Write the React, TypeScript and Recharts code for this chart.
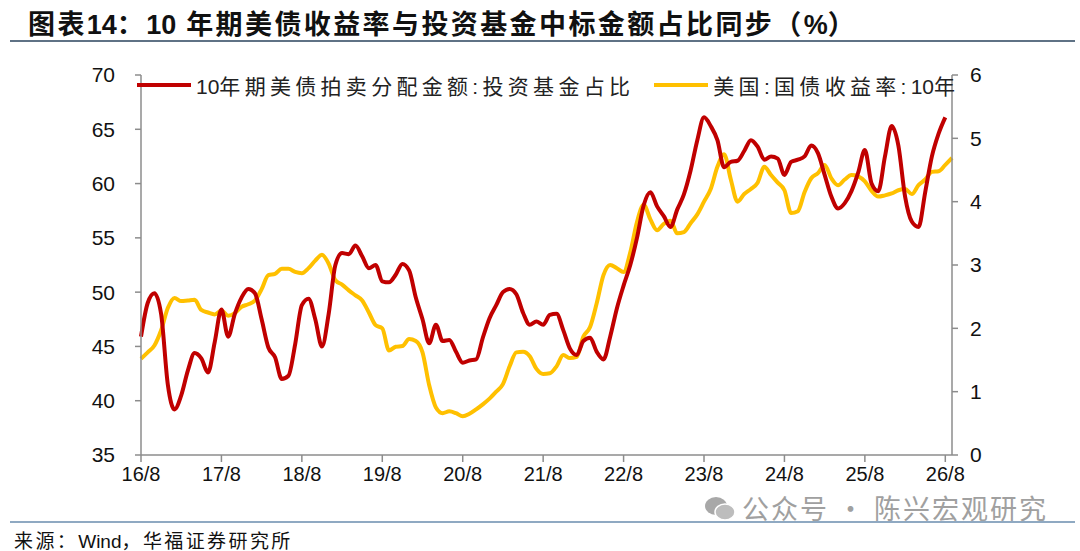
import React from "react";
import { LineChart, Line, XAxis, YAxis } from "recharts";

const months: number[] = Array.from({ length: 122 }, (_, i) => i);

const redValues: number[] = [
  45.9, 49.0, 49.9, 48.0, 41.5, 39.2, 40.5, 42.8, 44.4, 43.9,
  42.6, 45.4, 48.4, 45.9, 48.0, 49.5, 50.3, 49.9, 47.5, 44.9,
  44.0, 42.0, 42.3, 45.2, 48.8, 49.4, 47.5, 45.0, 48.0, 52.5,
  53.6, 53.5, 54.3, 53.3, 52.2, 52.5, 51.0, 50.9, 51.6, 52.6,
  52.0, 49.5, 47.5, 45.3, 47.0, 45.5, 45.6, 44.5, 43.5, 43.7,
  43.8, 45.8, 47.6, 48.8, 50.0, 50.3, 49.8, 48.1, 47.0, 47.3,
  47.0, 47.9, 48.0, 46.5, 44.8, 44.2, 45.5, 45.8, 44.5, 43.8,
  45.9, 48.5, 50.6, 52.5, 55.0, 58.0, 59.2, 57.9, 57.0, 56.0,
  57.6, 59.0, 61.2, 64.0, 66.1, 65.3, 64.0, 61.5, 62.0, 62.1,
  63.0, 64.0, 63.4, 62.2, 62.5, 62.3, 60.8, 62.0, 62.2, 62.5,
  63.5, 62.8, 60.8, 58.8, 57.7, 58.2, 59.3, 61.0, 63.1, 60.0,
  59.3, 62.5, 65.3, 63.5, 58.8, 56.5, 56.0, 59.2, 62.5, 64.6,
  66.1,
];

const yieldValues: number[] = [
  1.52, 1.62, 1.73, 1.97, 2.32, 2.48, 2.43, 2.44, 2.45, 2.29,
  2.25, 2.22, 2.28, 2.20, 2.24, 2.34, 2.38, 2.44, 2.62, 2.84,
  2.86, 2.94, 2.94, 2.89, 2.87, 2.95, 3.07, 3.16, 3.02, 2.76,
  2.69, 2.60, 2.52, 2.44, 2.25, 2.05, 2.00, 1.65, 1.71, 1.72,
  1.83, 1.80, 1.62, 1.10, 0.75, 0.66, 0.69, 0.66, 0.61, 0.65,
  0.72, 0.80, 0.89, 1.00, 1.12, 1.40, 1.62, 1.63, 1.56, 1.36,
  1.28, 1.29, 1.40, 1.58, 1.53, 1.55, 1.87, 2.02, 2.40, 2.84,
  3.00, 2.95, 2.89, 3.20, 3.68, 3.95, 3.72, 3.55, 3.65, 3.70,
  3.50, 3.52, 3.66, 3.80, 4.00, 4.20, 4.55, 4.75, 4.35, 4.00,
  4.12, 4.20, 4.30, 4.55, 4.42, 4.30, 4.18, 3.82, 3.85, 4.15,
  4.37, 4.45, 4.58, 4.37, 4.26, 4.35, 4.42, 4.40, 4.32, 4.17,
  4.08, 4.10, 4.13, 4.18, 4.20, 4.12, 4.26, 4.35, 4.47, 4.48,
  4.58, 4.69,
];

const xTicks: number[] = [0, 12, 24, 36, 48, 60, 72, 84, 96, 108, 120];
const xTickLabels: string[] = ["16/8", "17/8", "18/8", "19/8", "20/8", "21/8", "22/8", "23/8", "24/8", "25/8", "26/8"];
const leftTicks: number[] = [35, 40, 45, 50, 55, 60, 65, 70];
const rightTicks: number[] = [0, 1, 2, 3, 4, 5, 6];

const redName = "10年期美债拍卖分配金额:投资基金占比";
const yellowName = "美国:国债收益率:10年";
const titleText = "图表14：10 年期美债收益率与投资基金中标金额占比同步（%）";
const sourceText = "来源：Wind，华福证券研究所";
const watermarkText = "公众号 · 陈兴宏观研究";

const data = months.map((m, i) => ({
  m,
  red: i < redValues.length ? redValues[i] : null,
  yld: yieldValues[i],
}));

const RED = "#C00000";
const YELLOW = "#FFC000";
const AXIS = "#8C8C8C";
const FONT = "'Liberation Sans', Arial, 'Noto Sans CJK SC', sans-serif";

// Render text with letter spacing applied only to CJK / punctuation runs
function Spaced({ text, spacing }: { text: string; spacing: number }) {
  const runs: { s: string; latin: boolean }[] = [];
  for (const ch of text) {
    const latin = /[A-Za-z0-9%]/.test(ch);
    const last = runs[runs.length - 1];
    if (last && last.latin === latin) last.s += ch;
    else runs.push({ s: ch, latin });
  }
  return (
    <>
      {runs.map((r, i) => (
        <span key={i} style={{ letterSpacing: r.latin ? 0 : spacing }}>
          {r.s}
        </span>
      ))}
    </>
  );
}

export default function App() {
  return (
    <div style={{ position: "relative", width: 1080, height: 551, background: "#fff", fontFamily: FONT, overflow: "hidden" }}>
      <style>{`body{margin:0;}`}</style>
      <div
        style={{
          position: "absolute",
          left: 28,
          top: 3,
          fontSize: 27,
          fontWeight: 700,
          color: "#111",
          whiteSpace: "nowrap",
          fontFamily: "'Liberation Sans', 'Noto Sans CJK SC', sans-serif",
        }}
      >
        <Spaced text={titleText} spacing={2.4} />
      </div>
      <div style={{ position: "absolute", left: 10, width: 1065, top: 40, height: 1.5, background: "#5F7285" }} />

      <div style={{ position: "absolute", left: 0, top: 0 }}>
        <LineChart width={1080} height={551} data={data} margin={{ top: 75, right: 0, bottom: 0, left: 0 }}>
          <XAxis
            dataKey="m"
            type="number"
            domain={[0, 121]}
            ticks={xTicks}
            tickFormatter={(v: number) => xTickLabels[xTicks.indexOf(v)] ?? ""}
            height={96}
            tickSize={7}
            tickMargin={5}
            axisLine={{ stroke: AXIS, strokeWidth: 1.5 }}
            tickLine={{ stroke: AXIS, strokeWidth: 1.5 }}
            tick={{ fill: "#111", fontSize: 20, fontFamily: FONT }}
            interval={0}
          />
          <YAxis
            yAxisId="left"
            orientation="left"
            domain={[35, 70]}
            ticks={leftTicks}
            width={141}
            tickSize={6}
            tickMargin={20}
            axisLine={{ stroke: AXIS, strokeWidth: 1.5 }}
            tickLine={{ stroke: AXIS, strokeWidth: 1.5 }}
            tick={{ fill: "#111", fontSize: 21, fontFamily: FONT }}
            interval={0}
          />
          <YAxis
            yAxisId="right"
            orientation="right"
            domain={[0, 6]}
            ticks={rightTicks}
            width={128}
            tickSize={6}
            tickMargin={12}
            axisLine={{ stroke: AXIS, strokeWidth: 1.5 }}
            tickLine={{ stroke: AXIS, strokeWidth: 1.5 }}
            tick={{ fill: "#111", fontSize: 21, fontFamily: FONT }}
            interval={0}
          />
          <Line
            yAxisId="right"
            dataKey="yld"
            type="monotone"
            stroke={YELLOW}
            strokeWidth={4}
            dot={false}
            isAnimationActive={false}
            connectNulls
          />
          <Line
            yAxisId="left"
            dataKey="red"
            type="monotone"
            stroke={RED}
            strokeWidth={4}
            dot={false}
            isAnimationActive={false}
          />
        </LineChart>
      </div>

      <div style={{ position: "absolute", left: 137, top: 70, display: "flex", alignItems: "center", whiteSpace: "nowrap", fontSize: 21, color: "#222", fontFamily: FONT }}>
        <span style={{ display: "inline-block", width: 54, height: 4, background: RED, marginRight: 5 }} />
        <span>
          <Spaced text={redName} spacing={4.3} />
        </span>
        <span style={{ display: "inline-block", width: 54, height: 4, background: YELLOW, marginLeft: 20, marginRight: 5 }} />
        <span>
          <Spaced text={yellowName} spacing={4.3} />
        </span>
      </div>

      <div style={{ position: "absolute", left: 704, top: 488, display: "flex", alignItems: "center", whiteSpace: "nowrap", color: "#A0A0A0", fontSize: 27, letterSpacing: 2, fontFamily: "'Noto Sans CJK SC', sans-serif" }}>
        <svg width={32} height={28} style={{ marginRight: 6 }}>
          <ellipse cx={12} cy={12} rx={11} ry={9} fill="#A8A8A8" />
          <ellipse cx={21} cy={18} rx={10} ry={8} fill="#BDBDBD" stroke="#fff" strokeWidth={1.5} />
        </svg>
        <span>{watermarkText}</span>
      </div>

      <div style={{ position: "absolute", left: 10, width: 1065, top: 521, height: 1.5, background: "#8FA9C2" }} />
      <div style={{ position: "absolute", left: 14, top: 526, fontSize: 19, color: "#111", whiteSpace: "nowrap", fontFamily: FONT }}>
        <Spaced text={sourceText} spacing={2.4} />
      </div>
    </div>
  );
}
